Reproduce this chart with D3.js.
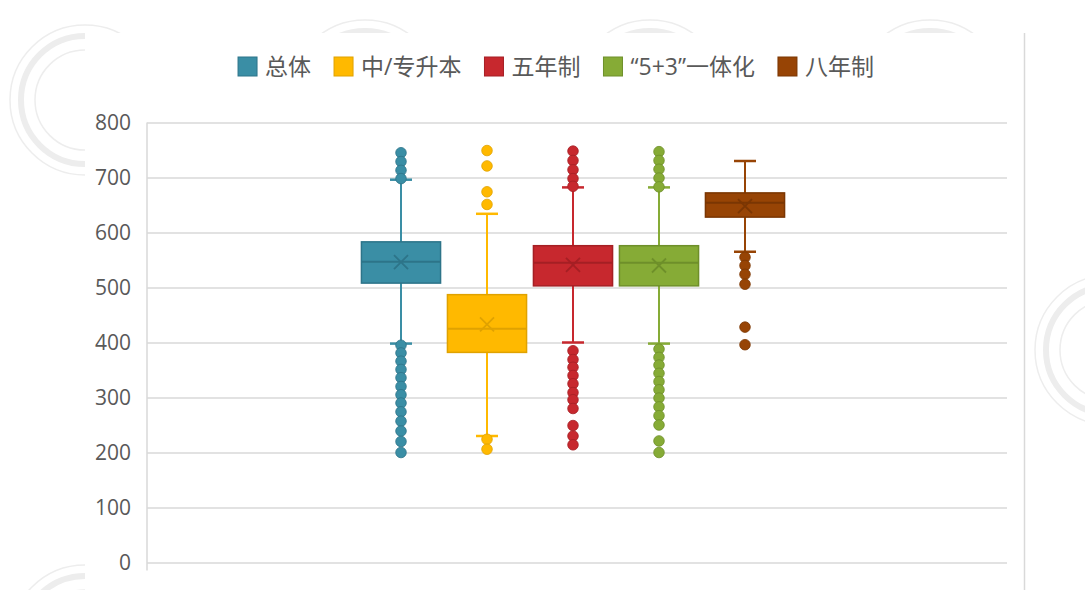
<!DOCTYPE html>
<html>
<head>
<meta charset="utf-8">
<script src="https://cdn.jsdelivr.net/npm/d3@7"></script>
<style>
  body { margin: 0; background: #fff; }
  svg { display: block; }
</style>
</head>
<body>
<div class="BoxChart"></div>
<script>
// series (groups) and their box statistics
const groups = ["总体", "中/专升本", "五年制", "“5+3”一体化", "八年制"];
const q1 = [508, 382, 503, 503, 628];
const median = [547, 425, 545, 545, 654];
const q3 = [583, 487, 576, 576, 672];
const means = [546, 433, 541, 540, 648];
const whiskerLow = [398, 230, 400, 398, 565];
const whiskerHigh = [696, 634, 682, 682, 730];
const outliers = [
  [745, 729, 713, 698, 395, 381, 366, 351, 336, 320, 305, 290, 274, 257, 239, 220, 200],
  [749, 721, 674, 651, 224, 206],
  [748, 731, 714, 698, 684, 385, 369, 355, 340, 325, 309, 296, 280, 249, 230, 214],
  [747, 731, 715, 699, 683, 388, 373, 359, 344, 329, 314, 299, 283, 267, 250, 221, 200],
  [555, 540, 524, 506, 428, 396]
];
const yTicks = [0, 100, 200, 300, 400, 500, 600, 700, 800];

const fills = ["#3a8ea5", "#ffb900", "#c7282e", "#86ab36", "#974405"];
const strokes = ["#2d7489", "#e0a200", "#a51f24", "#6e8f2a", "#7a3603"];

const width = 1085, height = 590;
const margin = { top: 122.5, right: 78, bottom: 27.5, left: 147 };
const innerW = width - margin.left - margin.right;
const innerH = height - margin.top - margin.bottom;

const svg = d3.select(".BoxChart")
  .append("svg")
  .attr("width", width)
  .attr("height", height);

// faint seal watermarks behind the chart panel
const seals = [[85, 100], [365, 95], [650, 95], [930, 95], [1110, 350], [85, 640]];
seals.forEach(([cx, cy]) => {
  [75, 64, 50].forEach((r, k) => {
    svg.append("circle")
      .attr("cx", cx).attr("cy", cy).attr("r", r)
      .attr("fill", "none")
      .attr("stroke", "#ededed")
      .attr("stroke-width", k === 1 ? 6 : 1.5);
  });
});

// white chart panel
svg.append("rect")
  .attr("x", 85).attr("y", 33)
  .attr("width", 1024 - 85).attr("height", height - 33)
  .attr("fill", "#fff");
svg.append("line")
  .attr("x1", 1024.5).attr("x2", 1024.5)
  .attr("y1", 33).attr("y2", height)
  .attr("stroke", "#d9d9d9")
  .attr("stroke-width", 1.5);

const g = svg.append("g")
  .attr("transform", `translate(${margin.left},${margin.top})`);

const y = d3.scaleLinear().domain([0, 800]).range([innerH, 0]);

// one category holding the 5 series, clustered like Excel
const x0 = d3.scaleBand().domain(["all"]).range([0, innerW]).paddingOuter(0.5);
const x = d3.scaleBand()
  .domain(groups)
  .range([x0("all") - 4, x0("all") + x0.bandwidth() - 4])
  .paddingInner(0.08)
  .paddingOuter(0.04);

// gridlines + y axis
const yAxis = g.append("g")
  .call(d3.axisLeft(y).tickValues(yTicks).tickSize(-innerW).tickPadding(16));
yAxis.select(".domain").remove();
yAxis.selectAll(".tick line")
  .attr("stroke", "#d9d9d9")
  .attr("stroke-width", 1.5);
yAxis.selectAll(".tick text")
  .attr("fill", "#595959")
  .style("font-family", "'Open Sans', 'Noto Sans', sans-serif")
  .style("font-size", "21px");

g.append("line")
  .attr("x1", 0).attr("x2", 0)
  .attr("y1", 0).attr("y2", innerH + 8)
  .attr("stroke", "#d9d9d9")
  .attr("stroke-width", 1.5);

// boxes
const boxData = groups.map((name, i) => ({
  name, i,
  q1: q1[i], median: median[i], q3: q3[i], mean: means[i],
  lo: whiskerLow[i], hi: whiskerHigh[i], out: outliers[i]
}));

const boxes = g.selectAll(".box")
  .data(boxData)
  .enter()
  .append("g")
  .attr("class", "box");

const cx = d => x(d.name) + x.bandwidth() / 2;
const capW = 11;

// whiskers
boxes.append("line")
  .attr("x1", cx).attr("x2", cx)
  .attr("y1", d => y(d.hi)).attr("y2", d => y(d.lo))
  .attr("stroke", d => fills[d.i])
  .attr("stroke-width", 2);
boxes.selectAll(".cap")
  .data(d => [d.hi, d.lo].map(v => ({ v, d })))
  .enter()
  .append("line")
  .attr("x1", e => cx(e.d) - capW).attr("x2", e => cx(e.d) + capW)
  .attr("y1", e => y(e.v)).attr("y2", e => y(e.v))
  .attr("stroke", e => fills[e.d.i])
  .attr("stroke-width", 2.5);

// box body
boxes.append("rect")
  .attr("x", d => x(d.name))
  .attr("width", x.bandwidth())
  .attr("y", d => y(d.q3))
  .attr("height", d => y(d.q1) - y(d.q3))
  .attr("fill", d => fills[d.i])
  .attr("stroke", d => strokes[d.i])
  .attr("stroke-width", 1.5);

// median
boxes.append("line")
  .attr("x1", d => x(d.name)).attr("x2", d => x(d.name) + x.bandwidth())
  .attr("y1", d => y(d.median)).attr("y2", d => y(d.median))
  .attr("stroke", d => strokes[d.i])
  .attr("stroke-width", 2);

// mean marker (X)
const mk = 7;
boxes.append("path")
  .attr("d", d => {
    const px = cx(d), py = y(d.mean);
    return `M${px - mk},${py - mk}L${px + mk},${py + mk}M${px - mk},${py + mk}L${px + mk},${py - mk}`;
  })
  .attr("stroke", d => strokes[d.i])
  .attr("stroke-width", 1.8)
  .attr("fill", "none");

// outlier points
boxes.selectAll(".dot")
  .data(d => d.out.map(v => ({ v, d })))
  .enter()
  .append("circle")
  .attr("class", "dot")
  .attr("cx", e => cx(e.d))
  .attr("cy", e => y(e.v))
  .attr("r", 5.3)
  .attr("fill", e => fills[e.d.i])
  .attr("stroke", e => strokes[e.d.i])
  .attr("stroke-width", 0.8);

// legend, centred above the plot
const legend = svg.append("g");
let lx = 0;
const gap = 23;
groups.forEach((name, i) => {
  const it = legend.append("g");
  it.append("rect")
    .attr("x", 0).attr("y", -9)
    .attr("width", 19).attr("height", 19)
    .attr("fill", fills[i])
    .attr("stroke", strokes[i])
    .attr("stroke-width", 1);
  const t = it.append("text")
    .attr("x", 27).attr("y", 0)
    .attr("dy", "0.38em")
    .attr("fill", "#595959")
    .style("font-family", "'Open Sans', 'Noto Sans CJK SC', sans-serif")
    .style("font-size", "23px")
    .text(name);
  it.attr("transform", `translate(${lx},0)`);
  lx += 27 + t.node().getComputedTextLength() + gap;
});
const legendW = lx - gap;
legend.attr("transform", `translate(${556 - legendW / 2},66)`);
</script>
</body>
</html>
